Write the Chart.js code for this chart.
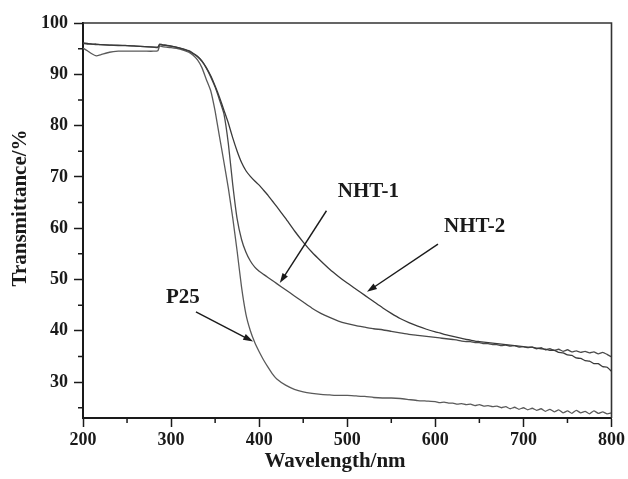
<!DOCTYPE html>
<html>
<head>
<meta charset="utf-8">
<script src="https://cdn.jsdelivr.net/npm/chart.js@4.4.1/dist/chart.umd.min.js"></script>
<style>
    body { margin: 0; background: #fff; }
    canvas { display: block; }
</style>
</head>
<body>
<canvas id="uvChart" width="628" height="479"></canvas>
<script>
/* ================= DATA ================= */

const wavelengths = [
    200, 205, 210, 215, 220, 230, 240, 250, 260, 270,
    280, 285, 287, 290, 300, 310, 320, 325, 330, 335,
    340, 345, 350, 355, 360, 365, 370, 375, 380, 385,
    390, 395, 400, 405, 410, 415, 420, 430, 440, 450,
    460, 470, 480, 490, 500, 510, 520, 530, 540, 550,
    560, 570, 580, 590,
    600, 605, 610, 615, 620, 625, 630, 635, 640, 645,
    650, 655, 660, 665, 670, 675, 680, 685, 690, 695,
    700, 705, 710, 715, 720, 725, 730, 735, 740, 745,
    750, 755, 760, 765, 770, 775, 780, 785, 790, 795,
    800
];

const p25 = [
    95.1, 94.6, 94.0, 93.6, 93.8, 94.3, 94.5, 94.5, 94.5, 94.5,
    94.5, 94.6, 95.5, 95.4, 95.2, 94.9, 94.3, 93.7, 92.8, 91.3,
    89.0, 86.8, 82.8, 77.8, 72.9, 67.8, 62.0, 55.5, 48.5, 43.2,
    40.0, 37.7, 35.9, 34.3, 32.9, 31.6, 30.6, 29.4, 28.6, 28.1,
    27.8, 27.6, 27.5, 27.4, 27.4, 27.3, 27.2, 27.0, 26.9, 26.9,
    26.8, 26.6, 26.4, 26.3,
    26.2, 26.0, 26.1, 25.9, 25.9, 25.7, 25.8, 25.6, 25.7, 25.4,
    25.6, 25.3, 25.4, 25.2, 25.3, 25.0, 25.2, 24.8, 25.1, 24.7,
    25.0, 24.6, 24.9, 24.5, 24.8, 24.3, 24.7, 24.2, 24.6, 24.0,
    24.4, 23.9, 24.5, 24.0, 24.3, 23.8, 24.4, 23.9, 24.2, 23.8,
    24.0
];

const nht1 = [
    96.0, 95.9, 95.9, 95.8, 95.8, 95.7, 95.6, 95.6, 95.5, 95.4,
    95.3, 95.2, 95.9, 95.8, 95.5, 95.1, 94.5, 94.0, 93.4, 92.5,
    91.2, 89.5, 87.5, 85.0, 82.3, 76.5, 68.5, 61.8, 57.8, 55.3,
    53.6, 52.4, 51.6, 51.0, 50.4, 49.8, 49.2, 48.0, 46.8, 45.6,
    44.4, 43.4, 42.6, 41.9, 41.4, 41.0, 40.7, 40.4, 40.2, 39.9,
    39.6, 39.3, 39.1, 38.9,
    38.7, 38.6, 38.5, 38.4, 38.3, 38.2, 38.0, 37.9, 37.9, 37.7,
    37.7, 37.5, 37.5, 37.3, 37.3, 37.1, 37.2, 37.0, 37.1, 36.8,
    36.9, 36.7, 36.8, 36.5, 36.7, 36.3, 36.5, 36.2, 36.4, 36.0,
    36.3, 35.9, 36.1, 35.8, 36.0, 35.7, 35.9, 35.5, 35.8, 35.4,
    34.9
];

const nht2 = [
    96.1, 96.0, 95.9, 95.9, 95.8, 95.7, 95.7, 95.6, 95.5, 95.4,
    95.3, 95.3, 95.8, 95.7, 95.5, 95.1, 94.6, 94.1, 93.5, 92.6,
    91.3, 89.7, 87.7, 85.5, 83.0, 80.5, 77.6, 75.0, 72.8, 71.2,
    70.1, 69.2, 68.4, 67.4, 66.4, 65.3, 64.2, 61.9, 59.5, 57.3,
    55.3, 53.6, 52.0, 50.6, 49.3, 48.1, 46.9, 45.7, 44.5, 43.4,
    42.4, 41.6, 40.9, 40.3,
    39.8, 39.6, 39.3, 39.1, 38.9, 38.7, 38.5, 38.3, 38.2, 38.0,
    37.9, 37.8, 37.7, 37.6, 37.5, 37.4, 37.3, 37.2, 37.1, 37.0,
    36.9, 36.8, 36.8, 36.6, 36.5, 36.4, 36.2, 36.2, 35.8, 35.7,
    35.3, 35.2, 34.7, 34.6, 34.2, 34.1, 33.6, 33.6, 33.0, 32.9,
    32.1
];

const xTicks = [200, 300, 400, 500, 600, 700, 800];
const xMinor = [250, 350, 450, 550, 650, 750];
const yTicks = [30, 40, 50, 60, 70, 80, 90, 100];
const yMinor = [25, 35, 45, 55, 65, 75, 85, 95];

/* labels + arrows, in data units */
const notes = [
    { text: "NHT-1", at: [524, 67.2], from: [476.4, 63.4], to: [423.4, 49.3] },
    { text: "NHT-2", at: [644.6, 60.4], from: [603, 56.9], to: [522.4, 47.6] },
    { text: "P25", at: [313.4, 46.5], from: [328.2, 43.7], to: [393.2, 37.9] }
];

const serif = "'Liberation Serif', 'Times New Roman', serif";
const ink = "#1a1a1a";

function series(values, color) {
    return {
        data: wavelengths.map((w, i) => ({ x: w, y: values[i] })),
        borderColor: color,
        borderWidth: 1.3,
        pointRadius: 0,
        tension: 0.15,
        fill: false
    };
}

/* ================= EXTRAS ================= */

const extras = {
    id: "extras",
    afterDraw(chart) {
        const { ctx, chartArea: a, scales: { x, y } } = chart;
        ctx.save();

        // top + right frame
        ctx.strokeStyle = "#333";
        ctx.lineWidth = 1.6;
        ctx.beginPath();
        ctx.moveTo(a.left, a.top);
        ctx.lineTo(a.right, a.top);
        ctx.lineTo(a.right, a.bottom);
        ctx.stroke();

        // minor ticks
        ctx.strokeStyle = ink;
        ctx.lineWidth = 1.5;
        ctx.beginPath();
        yMinor.forEach(v => {
            const py = y.getPixelForValue(v);
            ctx.moveTo(a.left - 5, py);
            ctx.lineTo(a.left, py);
        });
        xMinor.forEach(v => {
            const px = x.getPixelForValue(v);
            ctx.moveTo(px, a.bottom);
            ctx.lineTo(px, a.bottom + 5);
        });
        ctx.stroke();

        // axis titles
        ctx.fillStyle = ink;
        ctx.font = "bold 21px " + serif;
        ctx.textAlign = "center";
        ctx.textBaseline = "alphabetic";
        ctx.fillText("Wavelength/nm", 335, 467);
        ctx.save();
        ctx.translate(25.5, 208);
        ctx.rotate(-Math.PI / 2);
        ctx.fillText("Transmittance/%", 0, 0);
        ctx.restore();

        // annotations
        notes.forEach(n => {
            ctx.textBaseline = "middle";
            ctx.fillText(n.text, x.getPixelForValue(n.at[0]), y.getPixelForValue(n.at[1]));

            const x1 = x.getPixelForValue(n.from[0]), y1 = y.getPixelForValue(n.from[1]);
            const x2 = x.getPixelForValue(n.to[0]), y2 = y.getPixelForValue(n.to[1]);
            const ang = Math.atan2(y2 - y1, x2 - x1);
            ctx.strokeStyle = ink;
            ctx.lineWidth = 1.4;
            ctx.beginPath();
            ctx.moveTo(x1, y1);
            ctx.lineTo(x2 - 6 * Math.cos(ang), y2 - 6 * Math.sin(ang));
            ctx.stroke();
            ctx.beginPath();
            ctx.moveTo(x2, y2);
            ctx.lineTo(x2 - 10 * Math.cos(ang) + 3.2 * Math.sin(ang), y2 - 10 * Math.sin(ang) - 3.2 * Math.cos(ang));
            ctx.lineTo(x2 - 10 * Math.cos(ang) - 3.2 * Math.sin(ang), y2 - 10 * Math.sin(ang) + 3.2 * Math.cos(ang));
            ctx.closePath();
            ctx.fill();
        });

        ctx.restore();
    }
};

/* ================= CHART ================= */

new Chart(document.getElementById("uvChart"), {
    type: "line",
    data: {
        datasets: [
            series(nht2, "#3a3a3a"),
            series(nht1, "#4a4a4a"),
            series(p25, "#5a5a5a")
        ]
    },
    options: {
        responsive: false,
        animation: false,
        layout: { padding: { top: 23, right: 16, left: 0, bottom: 0 } },
        plugins: {
            legend: { display: false },
            tooltip: { enabled: false }
        },
        scales: {
            x: {
                type: "linear",
                min: 200,
                max: 800,
                afterBuildTicks: s => { s.ticks = xTicks.map(v => ({ value: v })); },
                afterFit: s => { s.height = 61; },
                grid: { drawOnChartArea: false, tickLength: 9, color: ink, tickWidth: 1.5 },
                border: { display: true, color: ink, width: 2 },
                ticks: {
                    color: ink,
                    padding: 3,
                    maxRotation: 0,
                    font: { family: serif, size: 18, weight: "bold" }
                }
            },
            y: {
                min: 23,
                max: 100,
                afterBuildTicks: s => { s.ticks = yTicks.map(v => ({ value: v })); },
                afterFit: s => { s.width = 83; },
                grid: { drawOnChartArea: false, tickLength: 9, color: ink, tickWidth: 1.5 },
                border: { display: true, color: ink, width: 2 },
                ticks: {
                    color: ink,
                    padding: 6,
                    font: { family: serif, size: 18, weight: "bold" }
                }
            }
        }
    },
    plugins: [extras]
});
</script>
</body>
</html>
